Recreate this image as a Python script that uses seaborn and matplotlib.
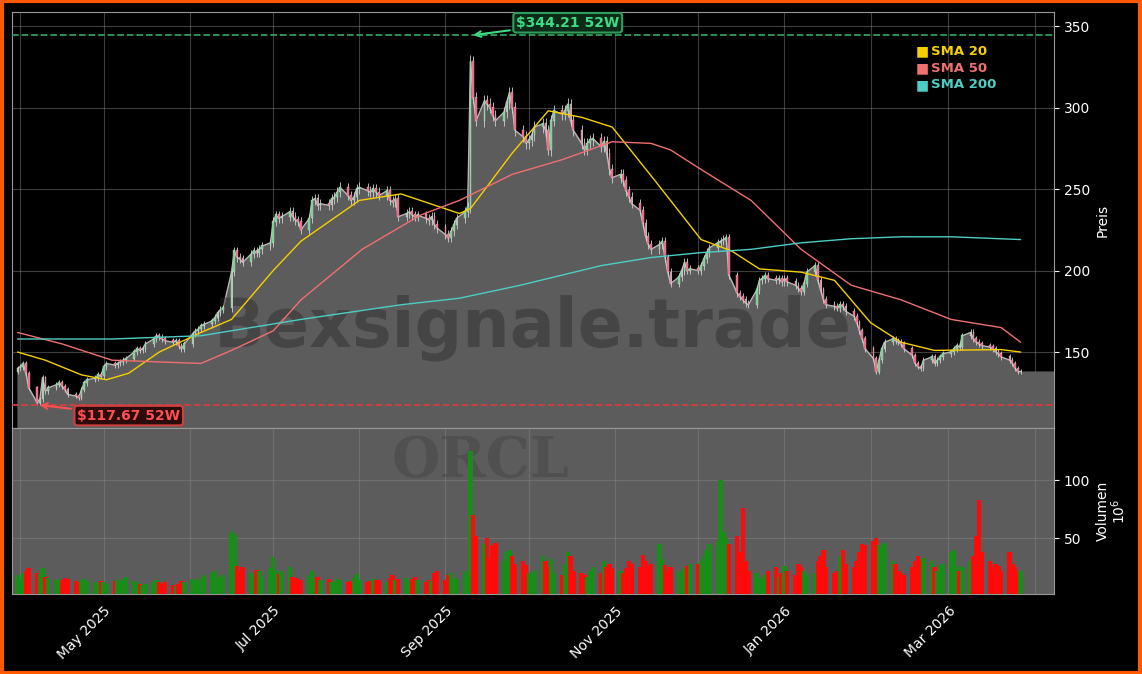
import numpy as np
import pandas as pd
import matplotlib
matplotlib.use("Agg")
import matplotlib.pyplot as plt
import matplotlib.dates as mdates
import seaborn as sns

# ---------------- data ----------------
month_starts = ["2025-03-31", "2025-05-01", "2025-06-02", "2025-07-01", "2025-08-01", "2025-09-01",
                "2025-10-01", "2025-11-03", "2025-12-01", "2026-01-01", "2026-02-02", "2026-03-02"]
close_apr = [140,141,143,137,128,119,121,134,126,128,130,131,129,127,124,123,122,127,131,133,134,136,135]
close_may = [141,143,142,143,144,145,146,150,152,151,152,155,158,160,159,158,157,156,157,154,152,155]
close_jun = [161,163,164,166,167,169,171,174,176,177,199,212,208,207,205,210,212,211,213,215,217]
close_jul = [230,234,232,233,236,233,231,230,225,232,243,244,240,241,240,244,245,248,251,246,243,245,250]
close_aug = [251,249,248,250,248,246,249,243,242,244,233,235,236,234,233,234,232,231,233,228,226]
close_sep = [222,220,224,228,232,236,239,328,306,292,304,302,300,295,292,297,303,309,300,286,282,278]
close_oct = [280,283,288,290,286,274,292,298,296,298,302,292,286,278,274,278,280,281,276,279,272,262,257]
close_nov = [259,255,249,245,241,237,229,221,216,213,216,218,208,199,192,196,200,205,200,201]
close_dec = [200,203,207,211,214,217,218,219,220,197,186,184,182,180,179,188,194,195,197,195,194,195,193]
close_jan = [195,193,191,189,187,192,199,203,194,188,182,179,178,177,179,178,175,172,168,163,158,152]
close_feb = [146,138,145,152,156,158,157,156,155,152,148,143,141,140,145,147,143,145,147,149]
close_mar = [150,152,154,153,160,162,158,156,155,154,153,152,150,149,147,145,143,140,138,138]

vol_apr = [18,15,20,22,24,20,19,24,17,16,14,15,14,16,15,13,12,14,15,13,12,11,13]
vol_may = [12,11,13,14,12,15,17,13,12,11,10,11,12,14,12,11,12,10,9,11,13,12]
vol_jun = [15,14,13,16,18,20,22,17,16,18,55,53,26,22,25,20,18,23,22,17,24]
vol_jul = [34,22,19,22,25,17,16,15,14,18,22,15,17,14,15,12,13,15,14,12,13,16,19]
vol_aug = [14,12,13,15,14,14,12,16,18,14,15,16,13,15,17,14,12,14,13,20,22]
vol_sep = [14,18,20,16,15,22,20,125,70,52,45,50,33,44,46,30,38,40,35,28,30,27]
vol_oct = [20,18,22,35,30,25,32,20,18,28,38,35,22,20,18,17,22,25,20,30,25,28,24]
vol_nov = [22,20,24,30,28,25,36,30,26,28,45,32,27,22,25,22,20,24,26,28]
vol_dec = [28,30,35,40,45,48,100,55,50,45,52,38,76,30,22,20,16,15,18,22,25,17,20]
vol_jan = [26,22,18,28,25,22,18,20,30,35,40,25,20,22,35,40,28,25,30,38,45,44]
vol_feb = [48,50,44,42,46,30,28,22,20,18,25,30,35,32,33,30,25,22,27,28]
vol_mar = [38,40,26,22,25,30,35,52,83,38,30,25,28,26,22,38,28,25,22,22]

sma20_dates = ["2025-03-31","2025-04-10","2025-04-23","2025-05-02","2025-05-10","2025-05-21","2025-06-05",
               "2025-06-16","2025-07-01","2025-07-11","2025-08-01","2025-08-16","2025-09-06","2025-09-10",
               "2025-09-25","2025-10-08","2025-10-20","2025-10-31","2025-11-15","2025-12-02","2025-12-13",
               "2025-12-23","2026-01-07","2026-01-19","2026-02-01","2026-02-12","2026-02-24","2026-03-20","2026-03-27"]
sma20_vals = [150,145,136,133,137,150,162,170,200,218,243,247,235,238,272,298,294,288,256,219,212,201,199,194,168,156,151,151.5,150]
sma50_dates = ["2025-03-31","2025-04-16","2025-05-04","2025-06-05","2025-06-16","2025-07-01","2025-07-11",
               "2025-08-02","2025-08-23","2025-09-06","2025-09-25","2025-10-13","2025-10-31","2025-11-14",
               "2025-11-21","2025-12-02","2025-12-20","2026-01-07","2026-01-25","2026-02-12","2026-03-02","2026-03-20","2026-03-27"]
sma50_vals = [162,155,145,143,151,163,182,213,234,243,259,268,279,278,274,262,243,213,191,182,170,165,156]
sma200_dates = ["2025-03-31","2025-05-04","2025-06-05","2025-07-11","2025-08-16","2025-09-06","2025-09-28",
                "2025-10-27","2025-11-14","2025-12-02","2025-12-20","2026-01-07","2026-01-25","2026-02-12",
                "2026-03-02","2026-03-27"]
sma200_vals = [158,158,160,170,179,183,191,203,208,211,213,217,219.5,220.7,220.7,219]

high_52w = 344.21
low_52w = 117.67
ticker = "ORCL"

# ---------------- assemble ----------------
close_months = [close_apr, close_may, close_jun, close_jul, close_aug, close_sep,
                close_oct, close_nov, close_dec, close_jan, close_feb, close_mar]
vol_months = [vol_apr, vol_may, vol_jun, vol_jul, vol_aug, vol_sep,
              vol_oct, vol_nov, vol_dec, vol_jan, vol_feb, vol_mar]
dates = []
for s, c in zip(month_starts, close_months):
    dates.extend(pd.bdate_range(s, periods=len(c)))
close = np.concatenate([np.array(c, float) for c in close_months])
vol = np.concatenate([np.array(v, float) for v in vol_months])
opn = np.concatenate([[138.0], close[:-1]])
df = pd.DataFrame({"date": pd.to_datetime(dates), "open": opn, "close": close, "vol": vol})
df["up"] = df["close"] >= df["open"]
pad = df["close"] * 0.012
df["high"] = np.maximum(df["open"], df["close"]) + pad
df["low"] = np.minimum(df["open"], df["close"]) - pad

sma = pd.concat([
    pd.DataFrame({"date": pd.to_datetime(sma20_dates), "val": sma20_vals, "line": "SMA 20"}),
    pd.DataFrame({"date": pd.to_datetime(sma50_dates), "val": sma50_vals, "line": "SMA 50"}),
    pd.DataFrame({"date": pd.to_datetime(sma200_dates), "val": sma200_vals, "line": "SMA 200"}),
])

# ---------------- style ----------------
sns.set_style("dark")
plt.rcParams["font.family"] = ["DejaVu Sans"]
BG = "#000000"
FILL = "#5c5c5c"

fig = plt.figure(figsize=(11.42, 6.74), dpi=100, facecolor=BG)
fig.patches.append(plt.Rectangle((0.0015, 0.0022), 0.997, 0.9956, transform=fig.transFigure,
                                 fill=False, edgecolor="#ff5a00", linewidth=3, zorder=10))
L, R = 12 / 1142, 1054 / 1142
ax = fig.add_axes([L, 1 - 428 / 674, R - L, (428 - 12) / 674])
axv = fig.add_axes([L, 1 - 594 / 674, R - L, (594 - 428) / 674], sharex=ax)

for a in (ax, axv):
    a.grid(True, color="#888888", alpha=0.45, linewidth=0.8)
    a.yaxis.tick_right()
    a.yaxis.set_label_position("right")
    a.tick_params(colors="white", labelsize=10)
    for sp in a.spines.values():
        sp.set_color("#999999")
ax.set_facecolor(BG)
axv.set_facecolor(FILL)

x0, x1 = pd.Timestamp("2025-03-29"), pd.Timestamp("2026-04-08")
ymin, ymax = 103.4, 358.6
ext_d = list(df["date"]) + [x1]
ext_c = list(df["close"]) + [df["close"].iloc[-1]]
ax.fill_between(ext_d, ext_c, ymin, color=FILL, zorder=1)
ax.plot(df["date"], df["close"], color="#b5b5b5", lw=1, zorder=2)

# candles
w = 0.6
for _, r in df.iterrows():
    col = "#6fd08c" if r["up"] else "#ff5577"
    ax.vlines(r["date"], r["low"], r["high"], color="#cfcfcf", lw=0.6, zorder=3)
    ax.bar(r["date"], abs(r["close"] - r["open"]) + 0.4, bottom=min(r["open"], r["close"]),
           width=w, color=col, edgecolor="#dddddd", linewidth=0.25, zorder=4)

pal = {"SMA 20": "#f5d000", "SMA 50": "#f07070", "SMA 200": "#4ecdc4"}
sns.lineplot(data=sma, x="date", y="val", hue="line", palette=pal, ax=ax, lw=1, legend=False, zorder=5)

ax.axhline(high_52w, color="#2e9e5e", ls="--", lw=1.3, zorder=6)
ax.axhline(low_52w, color="#d04040", ls="--", lw=1.3, zorder=6)
ax.annotate(f"${high_52w:.2f} 52W", xy=(pd.Timestamp("2025-09-10"), high_52w),
            xytext=(pd.Timestamp("2025-10-15"), 352), color="#3ddc84", fontsize=10, fontweight="bold",
            ha="center", va="center",
            bbox=dict(boxstyle="round,pad=0.2", fc="#0b2b18", ec="#2e9e5e", lw=1.5),
            arrowprops=dict(arrowstyle="->", color="#3ddc84", lw=1.5), zorder=7)
ax.annotate(f"${low_52w:.2f} 52W", xy=(pd.Timestamp("2025-04-07"), low_52w),
            xytext=(pd.Timestamp("2025-05-10"), 111), color="#ff5050", fontsize=10, fontweight="bold",
            ha="center", va="center",
            bbox=dict(boxstyle="round,pad=0.2", fc="#2b0b0b", ec="#d04040", lw=1.5),
            arrowprops=dict(arrowstyle="->", color="#ff5050", lw=1.5), zorder=7)

# legend
for i, (name, c) in enumerate(pal.items()):
    yy = 0.905 - i * 0.04
    ax.text(0.867, yy, "\u25a0", color=c, transform=ax.transAxes, fontsize=10, va="center")
    ax.text(0.882, yy, name, color=c, transform=ax.transAxes, fontsize=9.5, fontweight="bold", va="center")

ax.text(0.5, 0.24, "Bexsignale.trade", transform=ax.transAxes, fontsize=48, fontweight="bold",
        color="#2a2a2a", alpha=0.45, ha="center", va="center", zorder=2)
axv.text(0.45, 0.8, ticker, transform=axv.transAxes, fontsize=40, fontweight="bold",
         color="#3a3a3a", alpha=0.35, ha="center", va="center", family="DejaVu Serif")

ax.set_ylim(ymin, ymax)
ax.set_yticks([150, 200, 250, 300, 350])
ax.set_ylabel("Preis", color="white", fontsize=10)
ax.set_xlabel("")
ax.set_xlim(x0, x1)
plt.setp(ax.get_xticklabels(), visible=False)

vcol = np.where(df["up"], "#1a8c1a", "#ff0a0a")
axv.bar(df["date"], df["vol"], width=1.6, color=vcol, linewidth=0, zorder=3)
axv.set_ylim(2, 145)
axv.set_yticks([50, 100])
axv.set_ylabel("Volumen", color="white", fontsize=10)
axv.text(1.062, 0.5, "$10^6$", transform=axv.transAxes, rotation=90, color="white",
         fontsize=10, va="center", ha="center")
axv.xaxis.set_major_locator(mdates.MonthLocator())
axv.xaxis.set_major_formatter(plt.FuncFormatter(
    lambda v, p: mdates.num2date(v).strftime("%b %Y") if mdates.num2date(v).month % 2 == 1 else ""))
plt.setp(axv.get_xticklabels(), rotation=45, ha="right", rotation_mode="anchor")
axv.set_xlabel("")

fig.savefig("out.png", dpi=100, facecolor=BG)
